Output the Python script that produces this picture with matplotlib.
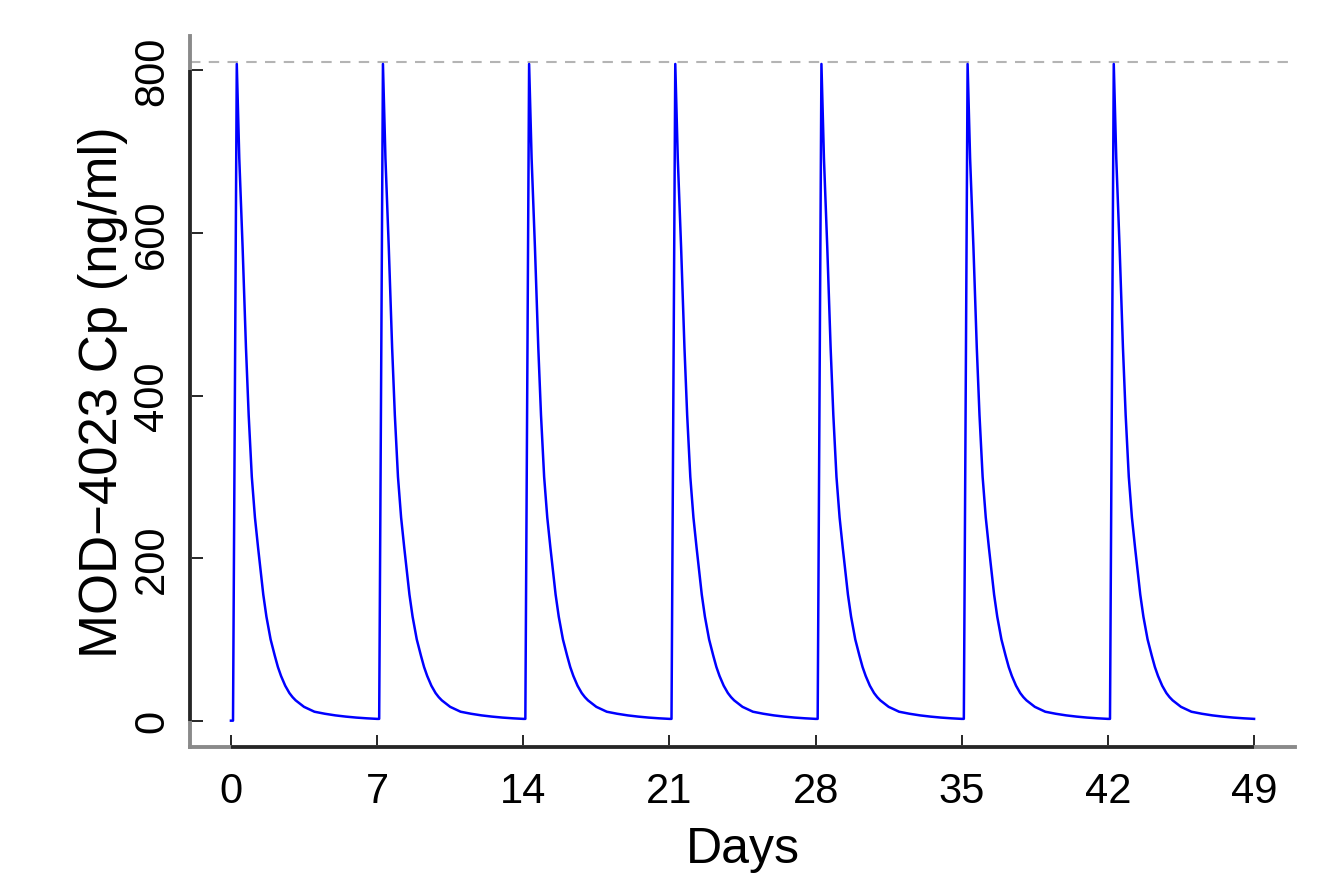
import matplotlib
matplotlib.use("Agg")
import matplotlib.pyplot as plt
import numpy as np

# ---- data ----
dose_days = [0, 7, 14, 21, 28, 35, 42]
trough_before_dose = [0.0, 2.2, 2.2, 2.2, 2.2, 2.2, 2.2]
# concentration profile after each dose (days since dose, ng/ml)
t_after_dose = [0.10, 0.28, 0.40, 0.56, 0.72, 0.85, 1.00, 1.15, 1.30, 1.55,
                1.70, 1.90, 2.10, 2.25, 2.40, 2.60, 2.80, 2.95, 3.10, 3.50,
                3.75, 4.00, 4.50, 5.00, 5.50, 6.00, 6.50, 7.00]
conc_after_dose = [None, 808, 692, 582, 459, 376, 300, 250, 213, 155,
                   128, 100, 80, 66, 55, 43, 34, 29, 25, 17,
                   14, 11, 8.5, 6.5, 5.0, 3.8, 2.9, 2.2]
cmax_line = 810
x_ticks = [0, 7, 14, 21, 28, 35, 42, 49]
y_ticks = [0, 200, 400, 600, 800]
x_label = "Days"
y_label = "MOD\u22124023 Cp (ng/ml)"

# ---- assemble the series from the read profile ----
days, cp = [], []
for d, tr in zip(dose_days, trough_before_dose):
    days.append(d)
    cp.append(tr)
    for t, c in zip(t_after_dose, conc_after_dose):
        days.append(d + t)
        cp.append(tr if c is None else c)

plt.rcParams['font.family'] = ['Liberation Sans', 'DejaVu Sans']

fig = plt.figure(figsize=(13.34, 8.78), dpi=100)
ax = fig.add_axes([190/1334, 1 - 748/878, (1295-190)/1334, (748-37)/878])

ax.plot(days, cp, color='#0000ff', lw=1.8, zorder=3)
ax.axhline(cmax_line, color='#b4b4b4', lw=1.5, ls=(0, (5, 4)), zorder=2)

xr = max(x_ticks) - min(x_ticks)
ax.set_xlim(min(x_ticks) - 0.04 * xr, max(x_ticks) + 0.04 * xr)
yr = cmax_line
ax.set_ylim(-0.04 * yr, cmax_line + 0.04 * yr)

for s in ['top', 'right']:
    ax.spines[s].set_visible(False)
for s in ['left', 'bottom']:
    ax.spines[s].set_color('#8a8a8a')
    ax.spines[s].set_linewidth(2.8)

# dark axis lines between the extreme ticks (R-style)
y0 = ax.get_ylim()[0]
x0 = ax.get_xlim()[0]
ax.plot([x_ticks[0], x_ticks[-1]], [y0, y0], color='#262626', lw=2.6,
        clip_on=False, zorder=4, solid_capstyle='butt')
ax.plot([x0, x0], [y_ticks[0], y_ticks[-1]], color='#262626', lw=2.6,
        clip_on=False, zorder=4, solid_capstyle='butt')

ax.set_xticks(x_ticks)
ax.set_xticklabels([str(v) for v in x_ticks])
ax.set_yticks(y_ticks)
ax.set_yticklabels([str(v) for v in y_ticks], rotation=90, va='center')
ax.tick_params(axis='both', direction='in', length=9, width=1.4,
               color='#262626', labelsize=30, labelcolor='black')
ax.tick_params(axis='x', pad=17)
ax.tick_params(axis='y', pad=13)

ax.set_xlabel(x_label, fontsize=36, labelpad=11)
ax.set_ylabel(y_label, fontsize=38, labelpad=3)

fig.savefig("out.png", dpi=100, facecolor='white')
